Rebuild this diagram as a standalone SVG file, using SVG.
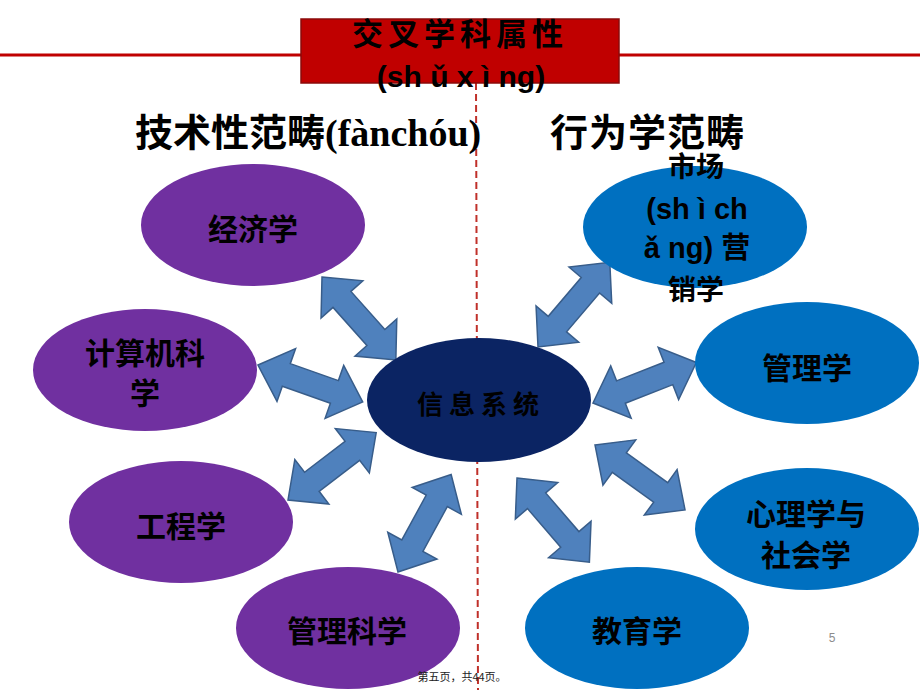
<svg xmlns="http://www.w3.org/2000/svg" xmlns:xlink="http://www.w3.org/1999/xlink" width="920" height="690" viewBox="0 0 920 690">
<style>
.cjk{font-family:"Noto Sans CJK SC","Liberation Sans",sans-serif;font-weight:bold;fill:#000;text-anchor:middle}
.lat{font-family:"Liberation Sans","Noto Sans CJK SC",sans-serif;font-weight:bold;fill:#000;text-anchor:middle}
.head{font-family:"Liberation Serif","Noto Sans CJK SC",serif;font-weight:bold;fill:#000}
.purple{fill:#7030a0}
.blue{fill:#0070c0}
.arrow{fill:#4f81bd;stroke:#385d8a;stroke-width:1.5;stroke-linejoin:miter}
</style>
<defs>
<polygon id="dbl" points="0,0 30,-28 30,-12 81,-12 81,-28 111,0 81,28 81,12 30,12 30,28"/>
</defs>
<rect width="920" height="690" fill="#fff"/>
<g id="frame">
<line x1="0" y1="55" x2="301" y2="55" stroke="#c00000" stroke-width="3"/>
<line x1="619" y1="55" x2="920" y2="55" stroke="#c00000" stroke-width="3"/>
<line x1="476" y1="83" x2="478" y2="690" stroke="#c0302a" stroke-width="2" stroke-dasharray="7,4"/>
<rect x="301" y="19" width="318" height="64" fill="#c00000" stroke="#8a0a0a" stroke-width="1.5"/>
<text x="460" y="45" class="cjk" font-size="31" letter-spacing="5" fill="#1a0000">交叉学科属性</text>
<text x="461" y="87" class="lat" font-size="30">(sh ǔ x ì ng)</text>
</g>
<g id="headings">
<text x="135" y="146" class="head" font-size="38">技术性范畴(fànchóu)</text>
<text x="550" y="146" class="head" font-size="38" letter-spacing="1">行为学范畴</text>
</g>
<g id="connectors">
<use xlink:href="#dbl" class="arrow" transform="translate(322,277) rotate(48.3)"/>
<use xlink:href="#dbl" class="arrow" transform="translate(258,365) rotate(19.4)"/>
<use xlink:href="#dbl" class="arrow" transform="translate(288,500) rotate(-37.4)"/>
<use xlink:href="#dbl" class="arrow" transform="translate(398,572) rotate(-61.4)"/>
<use xlink:href="#dbl" class="arrow" transform="translate(538,347) rotate(-49.7)"/>
<use xlink:href="#dbl" class="arrow" transform="translate(593,403) rotate(-21.4)"/>
<use xlink:href="#dbl" class="arrow" transform="translate(595,445) rotate(35.8)"/>
<use xlink:href="#dbl" class="arrow" transform="translate(517,478) rotate(49.3)"/>
</g>
<g id="node-center">
<ellipse cx="479" cy="400" rx="112" ry="62" fill="#0b2463"/>
<text x="481" y="414" class="cjk" font-size="26" letter-spacing="6" fill="#050a1a">信息系统</text>
</g>
<g id="node-jingji">
<ellipse cx="253" cy="225" rx="112" ry="61" class="purple"/>
<text x="253" y="240" class="cjk" font-size="30">经济学</text>
</g>
<g id="node-jisuanji">
<ellipse cx="145" cy="370" rx="112" ry="61" class="purple"/>
<text x="145" y="364" class="cjk" font-size="30">计算机科</text>
<text x="145" y="404" class="cjk" font-size="30">学</text>
</g>
<g id="node-gongcheng">
<ellipse cx="181" cy="522" rx="112" ry="61" class="purple"/>
<text x="181" y="537" class="cjk" font-size="30">工程学</text>
</g>
<g id="node-guanlikexue">
<ellipse cx="348" cy="628" rx="112" ry="61" class="purple"/>
<text x="347" y="642" class="cjk" font-size="30">管理科学</text>
</g>
<g id="node-shichang">
<ellipse cx="695" cy="227" rx="112" ry="61" class="blue"/>
<text x="696" y="177" class="cjk" font-size="28">市场</text>
<text x="697" y="219" class="lat" font-size="29">(sh ì ch</text>
<text x="697" y="258" class="lat" font-size="29">ǎ ng) 营</text>
<text x="696" y="300" class="cjk" font-size="28">销学</text>
</g>
<g id="node-guanli">
<ellipse cx="807" cy="363" rx="112" ry="61" class="blue"/>
<text x="807" y="379" class="cjk" font-size="30">管理学</text>
</g>
<g id="node-xinli">
<ellipse cx="807" cy="529" rx="112" ry="61" class="blue"/>
<text x="806" y="525" class="cjk" font-size="30">心理学与</text>
<text x="806" y="566" class="cjk" font-size="30">社会学</text>
</g>
<g id="node-jiaoyu">
<ellipse cx="637" cy="628" rx="112" ry="61" class="blue"/>
<text x="637" y="642" class="cjk" font-size="30">教育学</text>
</g>
<g id="footer">
<text x="832" y="642" font-family="Liberation Sans, sans-serif" font-size="12" fill="#8c8c8c" text-anchor="middle">5</text>
<text x="462" y="681" font-family="Noto Sans CJK SC, sans-serif" font-size="11" fill="#222" text-anchor="middle">第五页，共44页。</text>
</g>
</svg>
